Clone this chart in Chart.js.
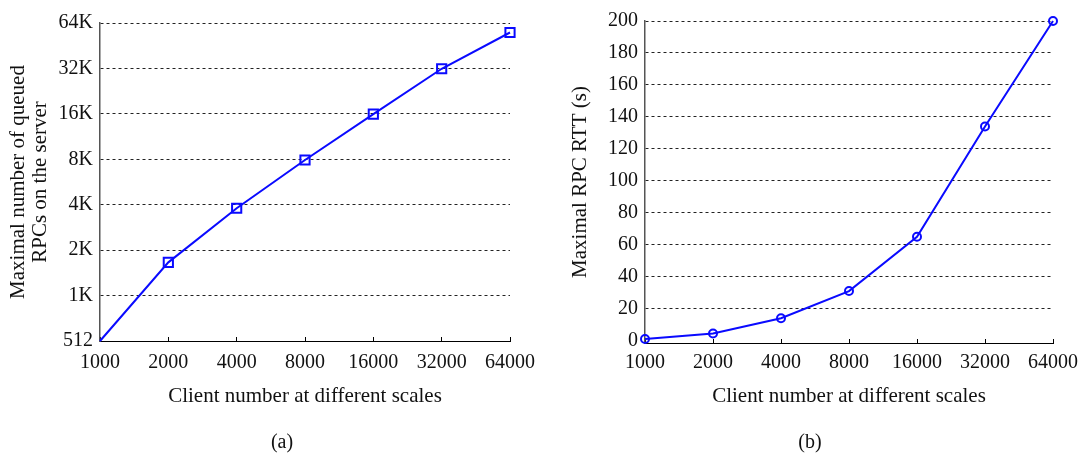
<!DOCTYPE html>
<html>
<head>
<meta charset="utf-8">
<script src="https://cdn.jsdelivr.net/npm/chart.js@4/dist/chart.umd.min.js"></script>
<style>
  html, body { margin: 0; padding: 0; background: #fff; }
  #wrap { position: relative; width: 1089px; height: 453px; }
  canvas { position: absolute; top: 0; }
  #chart-a { left: 0; }
  #chart-b { left: 540px; }
  .caption {
    position: absolute; top: 430px; width: 60px; margin-left: -30px;
    text-align: center; font: 20px "Liberation Serif", "Times New Roman", serif; color: #111;
  }
</style>
</head>
<body>
<div id="wrap">
  <canvas id="chart-a" width="540" height="453"></canvas>
  <canvas id="chart-b" width="549" height="453"></canvas>
  <div class="caption" style="left:282px">(a)</div>
  <div class="caption" style="left:810px">(b)</div>
</div>
<script>
// client counts on the x axis (same for both plots)
const clients = ['1000', '2000', '4000', '8000', '16000', '32000', '64000'];

// (a) max queued RPCs on the server
const queuedRpcs = [512, 1700, 3880, 8100, 16300, 32600, 56700];
const queuedTicks = [512, 1024, 2048, 4096, 8192, 16384, 32768, 65536];

// (b) max RPC round-trip time, seconds
const rttSeconds = [1, 4.5, 14, 31, 65, 134, 200];
const rttTicks = [0, 20, 40, 60, 80, 100, 120, 140, 160, 180, 200];

const BLUE = '#0a0aff';

Chart.defaults.font.family = '"Liberation Serif", "Times New Roman", serif';
Chart.defaults.font.size = 20;
Chart.defaults.color = '#111';

function xAxis(labelPad, titlePad) {
    return {
        type: 'category',
        offset: false,
        grid: {
            drawOnChartArea: false,
            drawTicks: true,
            tickLength: -4,
            color: '#000'
        },
        border: { display: true, color: '#000', width: 1 },
        ticks: { padding: labelPad, maxRotation: 0, autoSkip: false },
        title: {
            display: true,
            text: 'Client number at different scales',
            font: { size: 21 },
            padding: { top: 0, bottom: titlePad }
        },
        afterFit: (scale) => {
            // fixed band height; side overflow is handled by layout padding
            scale.height = 91;
            scale.paddingLeft = 0;
            scale.paddingRight = 0;
        }
    };
}

function yGrid() {
    return {
        grid: { color: '#222', drawTicks: false },
        border: { display: true, color: '#555', width: 1.5, dash: [3, 3] }
    };
}

// left plot: log2 y axis
new Chart(document.getElementById('chart-a'), {
    type: 'line',
    data: {
        labels: clients,
        datasets: [{
            data: queuedRpcs,
            borderColor: BLUE,
            borderWidth: 2,
            pointStyle: 'rect',
            pointRadius: [0, 6.5, 6.5, 6.5, 6.5, 6.5, 6.5],
            pointBorderWidth: 2,
            pointBorderColor: BLUE,
            pointBackgroundColor: 'rgba(0,0,0,0)',
            tension: 0,
            clip: false
        }]
    },
    options: {
        responsive: false,
        animation: false,
        layout: { padding: { top: 23, right: 30, left: 0, bottom: 21 } },
        plugins: {
            legend: { display: false },
            tooltip: { enabled: false }
        },
        scales: {
            x: xAxis(14, 23),
            y: Object.assign(yGrid(), {
                type: 'logarithmic',
                min: 512,
                max: 65536,
                afterBuildTicks: (scale) => {
                    scale.ticks = queuedTicks.map(v => ({ value: v }));
                },
                ticks: {
                    padding: 7,
                    callback: (v) => v >= 1024 ? (v / 1024) + 'K' : String(v)
                },
                title: {
                    display: true,
                    text: ['Maximal number of queued', 'RPCs on the server'],
                    font: { size: 21, lineHeight: 1.05 },
                    padding: { top: 7, bottom: 0 }
                },
                afterFit: (scale) => { scale.width = 100; }
            })
        }
    }
});

// right plot: linear y axis, bottom sits a touch under zero
const rttY = Object.assign(yGrid(), {
    type: 'linear',
    min: -1.5,
    max: 200,
    afterBuildTicks: (scale) => {
        scale.ticks = rttTicks.map(v => ({ value: v }));
    },
    ticks: { padding: 7 },
    title: {
        display: true,
        text: 'Maximal RPC RTT (s)',
        font: { size: 21, lineHeight: 1.05 },
        padding: { top: 29, bottom: 0 }
    },
    afterFit: (scale) => { scale.width = 105; }
});
// no dashed line at zero, the x axis is right under it
rttY.grid.color = (ctx) => (ctx.tick && ctx.tick.value === 0) ? 'rgba(0,0,0,0)' : '#222';

new Chart(document.getElementById('chart-b'), {
    type: 'line',
    data: {
        labels: clients,
        datasets: [{
            data: rttSeconds,
            borderColor: BLUE,
            borderWidth: 2,
            pointStyle: 'circle',
            pointRadius: 4,
            pointBorderWidth: 2,
            pointBorderColor: BLUE,
            pointBackgroundColor: 'rgba(0,0,0,0)',
            tension: 0,
            clip: false
        }]
    },
    options: {
        responsive: false,
        animation: false,
        layout: { padding: { top: 21, right: 36, left: 0, bottom: 19 } },
        plugins: {
            legend: { display: false },
            tooltip: { enabled: false }
        },
        scales: {
            x: xAxis(12, 25),
            y: rttY
        }
    }
});
</script>
</body>
</html>
